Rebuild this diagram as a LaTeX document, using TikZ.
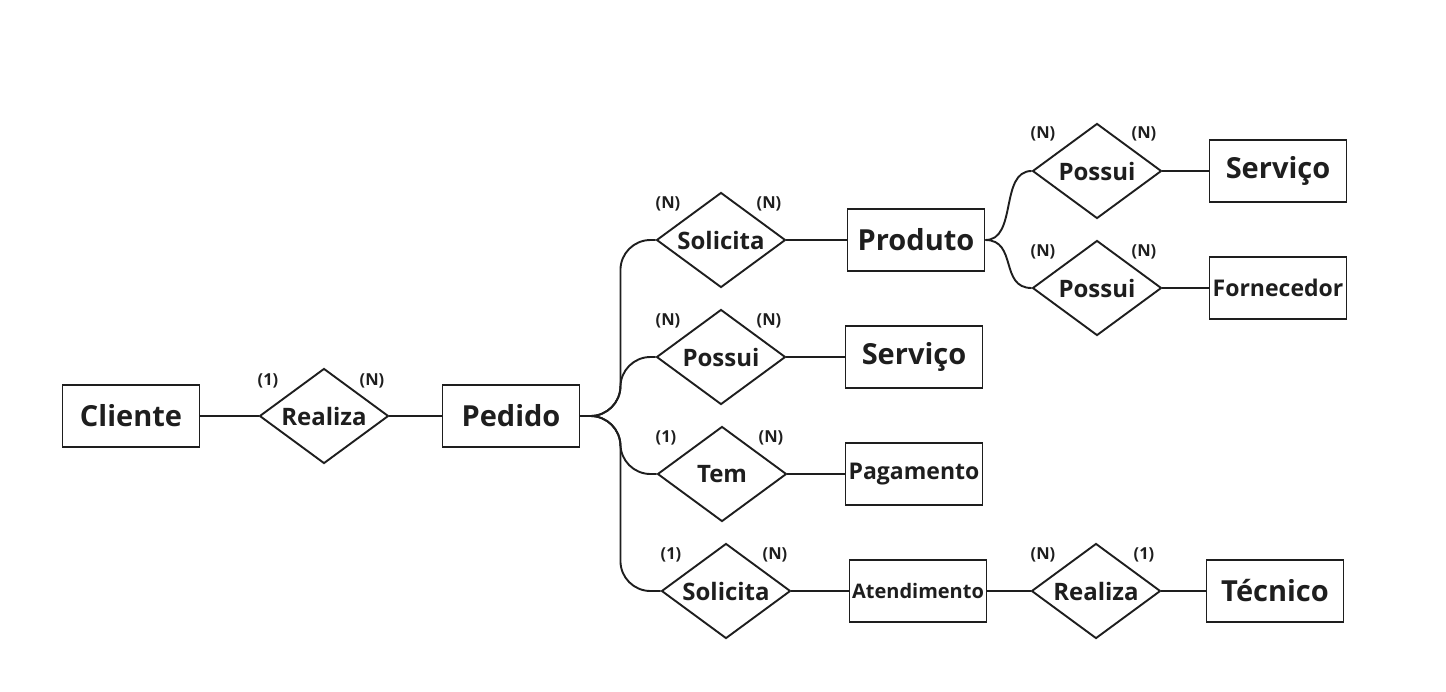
\documentclass[tikz,border=0pt]{standalone}
\usepackage{fontspec}
\setmainfont{Open Sans}
\usetikzlibrary{shapes.geometric}
\definecolor{inkgray}{HTML}{1E1E1E}

\begin{document}
\begin{tikzpicture}[x=1pt,y=-1pt,
        line width=1.9pt, draw=inkgray, text=inkgray, font=\bfseries,
        entity/.style={draw, rectangle, minimum width=137pt, minimum height=62pt, inner sep=0pt},
        relation/.style={draw, diamond, aspect=1.36, minimum width=129pt, minimum height=95pt, inner sep=0pt, font=\fontsize{24}{28}\selectfont\bfseries},
        big/.style={font=\fontsize{29}{33}\selectfont\bfseries},
        mid/.style={font=\fontsize{23}{27}\selectfont\bfseries},
        card/.style={font=\fontsize{16.5}{19}\selectfont\bfseries, inner sep=0pt},
        link/.style={line width=1.9pt, draw=inkgray},
        branch/.style={link, rounded corners=30pt}]
        \useasboundingbox (0,0) rectangle (1446,691);

        % Entities
        \node[entity, big] (cliente) at (131,416) {Cliente};
        \node[entity, big] (pedido) at (511,416) {Pedido};
        \node[entity, big] (produto) at (916,240) {Produto};
        \node[entity, big] (servico) at (914,357) {Serviço};
        \node[entity, mid] (pagamento) at (914,474) {Pagamento};
        \node[entity, font=\fontsize{20}{24}\selectfont\bfseries] (atendimento) at (918,591) {Atendimento};
        \node[entity, big] (tecnico) at (1275,591) {Técnico};
        \node[entity, big] (servicoprod) at (1278,171) {Serviço};
        \node[entity, mid] (fornecedor) at (1278,288) {Fornecedor};

        % Relationships
        \node[relation] (realiza) at (324,416) {Realiza};
        \node[relation] (solicitaprod) at (721,240) {Solicita};
        \node[relation] (possuiserv) at (721,357) {Possui};
        \node[relation] (tem) at (722,474) {Tem};
        \node[relation] (solicitaatend) at (726,591) {Solicita};
        \node[relation] (realizatec) at (1096,591) {Realiza};
        \node[relation] (possuiprod) at (1097,171) {Possui};
        \node[relation] (possuiforn) at (1097,288) {Possui};

        % Straight links
        \draw[link] (cliente) -- (realiza);
        \draw[link] (realiza) -- (pedido);
        \draw[link] (solicitaprod) -- (produto);
        \draw[link] (possuiserv) -- (servico);
        \draw[link] (tem) -- (pagamento);
        \draw[link] (solicitaatend) -- (atendimento);
        \draw[link] (atendimento) -- (realizatec);
        \draw[link] (realizatec) -- (tecnico);
        \draw[link] (possuiprod) -- (servicoprod);
        \draw[link] (possuiforn) -- (fornecedor);

        % Branches out of Pedido and Produto
        \draw[branch] (pedido.east) -- ++(40,0) |- (solicitaprod.west);
        \draw[branch] (pedido.east) -- ++(40,0) |- (possuiserv.west);
        \draw[branch] (pedido.east) -- ++(40,0) |- (tem.west);
        \draw[branch] (pedido.east) -- ++(40,0) |- (solicitaatend.west);
        \draw[link] (produto.east) .. controls +(32,0) and +(-32,0) .. (possuiprod.west);
        \draw[link] (produto.east) .. controls +(32,0) and +(-32,0) .. (possuiforn.west);

        % Cardinalities
        \node[card] (c1) at (268,381) {(1)};
        \node[card] (c2) at (372,381) {(N)};
        \node[card] (c3) at (668,204) {(N)};
        \node[card] (c4) at (769,204) {(N)};
        \node[card] (c5) at (668,321) {(N)};
        \node[card] (c6) at (769,321) {(N)};
        \node[card] (c7) at (666,438) {(1)};
        \node[card] (c8) at (771,438) {(N)};
        \node[card] (c9) at (671,555) {(1)};
        \node[card] (c10) at (775,555) {(N)};
        \node[card] (c11) at (1043,555) {(N)};
        \node[card] (c12) at (1144,555) {(1)};
        \node[card] (c13) at (1043,134) {(N)};
        \node[card] (c14) at (1144,134) {(N)};
        \node[card] (c15) at (1043,252) {(N)};
        \node[card] (c16) at (1144,252) {(N)};
    \end{tikzpicture}
\end{document}
